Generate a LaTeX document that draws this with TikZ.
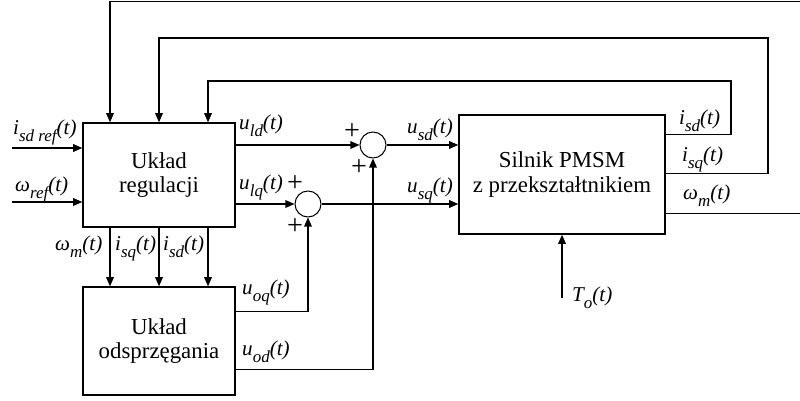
\documentclass[tikz,border=0pt]{standalone}
\usepackage{fontspec}
\setmainfont{Liberation Serif}
\usetikzlibrary{arrows.meta,positioning,calc}

\newcommand{\sig}[2]{\textit{#1\raisebox{-0.32em}{\fontsize{14.5}{14.5}\selectfont #2}(t)}}

\begin{document}
\begin{tikzpicture}[
    x=0.03cm, y=-0.03cm,
    block/.style={draw, line width=1.3pt, align=center, inner sep=0pt, font=\fontsize{19.5}{21}\selectfont},
    sumnode/.style={draw, circle, line width=0.9pt, minimum size=0.78cm, inner sep=0pt},
    arrow/.style={-{Triangle[length=2.7mm, width=2.3mm]}, line width=0.9pt},
    wire/.style={line width=0.9pt},
    lbl/.style={font=\fontsize{18}{20}\selectfont, inner sep=0pt, anchor=base west},
    sgn/.style={font=\fontsize{24}{24}\selectfont, inner sep=0pt}
]
\useasboundingbox (0,0) rectangle (800,401);
\clip (0,0) rectangle (800,401);

% blocks
\node[block, minimum width=4.56cm, minimum height=3.12cm] (reg) at (159,175) {Układ\\regulacji};
\node[block, minimum width=4.56cm, minimum height=3.24cm] (odsp) at (159,341) {Układ\\odsprzęgania};
\node[block, minimum width=6.18cm, minimum height=3.57cm] (pmsm) at (562,174.5) {Silnik PMSM\\z przekształtnikiem};
\node[sumnode] (s1) at (373,145) {};
\node[sumnode] (s2) at (308,204) {};

% free ends
\coordinate (isdref) at (12,148);
\coordinate (omref) at (12,202);
\coordinate (to) at (562,298);
\coordinate (fbd) at (731,81);
\coordinate (fbq) at (768,38);
\coordinate (fbw) at (806,1.5);

% inputs
\draw[arrow] (isdref) -- (reg.west |- isdref);
\draw[arrow] (omref) -- (reg.west |- omref);
\node[lbl] at (13,135) {\sig{i}{sd ref}};
\node[lbl] at (15,192) {\sig{ω}{ref}};

% regulator to summing points
\draw[arrow] (reg.east |- s1) -- (s1.west);
\draw[arrow] (reg.east |- s2) -- (s2.west);
\node[lbl] at (239,130) {\sig{u}{ld}};
\node[lbl] at (239,190) {\sig{u}{lq}};
\node[sgn] at (352,132) {+};
\node[sgn] at (359,168) {+};
\node[sgn] at (295,184) {+};
\node[sgn] at (295,227) {+};

% summing points to motor
\draw[arrow] (s1.east) -- (pmsm.west |- s1);
\draw[arrow] (s2.east) -- (pmsm.west |- s2);
\node[lbl] at (407,134) {\sig{u}{sd}};
\node[lbl] at (407,193) {\sig{u}{sq}};

% decoupling outputs
\draw[arrow] ($(odsp.north east)+(0,25)$) -| (s2.south);
\draw[arrow] ($(odsp.north east)+(0,83)$) -| (s1.south);
\node[lbl] at (242,295) {\sig{u}{oq}};
\node[lbl] at (242,356) {\sig{u}{od}};

% feedback loops
\draw[arrow] ($(pmsm.north east)+(0,20)$) -| (fbd) -| ($(reg.north)+(49,0)$);
\draw[arrow] ($(pmsm.north east)+(0,59)$) -| (fbq) -| (reg.north);
\draw[arrow] ($(pmsm.north east)+(0,99)$) -| (fbw) -| ($(reg.north)+(-49,0)$);
\node[lbl] at (679,125) {\sig{i}{sd}};
\node[lbl] at (682,162) {\sig{i}{sq}};
\node[lbl] at (683,200) {\sig{ω}{m}};

% regulator to decoupling
\foreach \dx in {-49,0,49}
  \draw[arrow] ($(reg.south)+(\dx,0)$) -- ($(odsp.north)+(\dx,0)$);
\node[lbl] at (55,251) {\sig{ω}{m}};
\node[lbl] at (115,251) {\sig{i}{sq}};
\node[lbl] at (163,251) {\sig{i}{sd}};

% load torque
\draw[arrow] (to) -- (pmsm.south);
\node[lbl] at (572,302) {\sig{T}{o}};

\end{tikzpicture}
\end{document}
